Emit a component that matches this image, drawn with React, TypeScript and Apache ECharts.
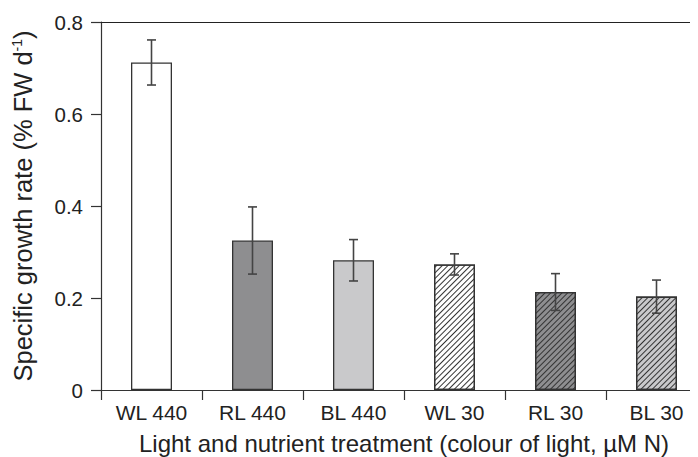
import React, { useEffect, useRef } from "react";
import * as echarts from "echarts";

const categories = ["WL 440", "RL 440", "BL 440", "WL 30", "RL 30", "BL 30"];
const growthRate = [0.712, 0.325, 0.282, 0.273, 0.213, 0.203];
const stdError = [0.049, 0.073, 0.045, 0.023, 0.040, 0.036];
const yTicks = [0, 0.2, 0.4, 0.6, 0.8];

const FILLS = ["#ffffff", "#8e8e90", "#c9c9cb", "#ffffff", "#8e8e90", "#c9c9cb"];
const HATCHED = [false, false, false, true, true, true];

export default function App() {
  const ref = useRef<HTMLDivElement>(null);
  useEffect(() => {
    if (!ref.current) return;
    const chart = echarts.init(ref.current, null, { renderer: "svg" });
    const font = "Liberation Sans, Arial, Helvetica, sans-serif";
    const hatch = {
      symbol: "rect",
      symbolSize: 1,
      dashArrayX: [1, 0],
      dashArrayY: [1, 2.3],
      rotation: -Math.PI / 4,
      color: "#333333",
    };
    const option: any = {
      animation: false,
      grid: { left: 101, right: -9, top: 22, bottom: 67, containLabel: false, outerBoundsMode: "none" },
      xAxis: [
        {
          type: "category",
          data: categories,
          position: "bottom",
          axisLine: { show: true, lineStyle: { color: "#333", width: 1.2 } },
          axisTick: { show: true, length: 10, alignWithLabel: false, lineStyle: { color: "#333", width: 1.2 } },
          axisLabel: { color: "#222", fontSize: 21, fontFamily: font, margin: 12 },
          name: "Light and nutrient treatment (colour of light, \u00b5M N)",
          nameLocation: "middle",
          nameGap: 41,
          nameTextStyle: { color: "#222", fontSize: 24, fontFamily: font },
        },
        {
          type: "category",
          data: categories,
          position: "top",
          axisLine: { show: true, lineStyle: { color: "#222", width: 1.2 } },
          axisTick: { show: false },
          axisLabel: { show: false },
        },
      ],
      yAxis: {
        type: "value",
        min: 0,
        max: 0.8,
        interval: 0.2,
        axisLine: { show: true, lineStyle: { color: "#333", width: 1.2 } },
        axisTick: { show: true, length: 10, lineStyle: { color: "#333", width: 1.2 } },
        splitLine: { show: false },
        axisLabel: {
          color: "#222",
          fontSize: 20.5,
          fontFamily: font,
          margin: 18,
          formatter: (v: number) => {
            const t = yTicks.find((x) => Math.abs(x - v) < 1e-9);
            return t === 0 ? "0" : String(t ?? v);
          },
        },
        name: "{n|Specific growth rate (% FW d}{sup|-1}{n|)}",
        nameLocation: "middle",
        nameGap: 65,
        nameTextStyle: {
          color: "#222",
          fontSize: 25.5,
          fontFamily: font,
          rich: {
            n: { fontSize: 25.5, fontFamily: font, color: "#222" },
            sup: { fontSize: 14, fontFamily: font, color: "#222", verticalAlign: "top", lineHeight: 14, padding: [0, 0, 12, 0] },
          },
        },
      },
      series: [
        {
          type: "bar",
          barWidth: 41,
          data: growthRate.map((v, i) => ({
            value: v,
            itemStyle: {
              color: FILLS[i],
              borderColor: "#333",
              borderWidth: 1.3,
              decal: HATCHED[i] ? hatch : undefined,
            },
          })),
        },
        {
          type: "custom",
          data: growthRate.map((v, i) => [i, v - stdError[i], v + stdError[i]]),
          z: 5,
          renderItem: (params: any, api: any) => {
            const x = api.value(0);
            const lo = api.coord([x, api.value(1)]);
            const hi = api.coord([x, api.value(2)]);
            const w = 4.5;
            const style = { stroke: "#444", lineWidth: 1.6 };
            return {
              type: "group",
              children: [
                { type: "line", shape: { x1: hi[0], y1: hi[1], x2: lo[0], y2: lo[1] }, style },
                { type: "line", shape: { x1: hi[0] - w, y1: hi[1], x2: hi[0] + w, y2: hi[1] }, style },
                { type: "line", shape: { x1: lo[0] - w, y1: lo[1], x2: lo[0] + w, y2: lo[1] }, style },
              ],
            };
          },
        },
      ],
    };
    chart.setOption(option);
    return () => chart.dispose();
  }, []);
  return <div ref={ref} style={{ width: 698, height: 457, marginLeft: -8, marginTop: -8, background: "#fff" }} />;
}
